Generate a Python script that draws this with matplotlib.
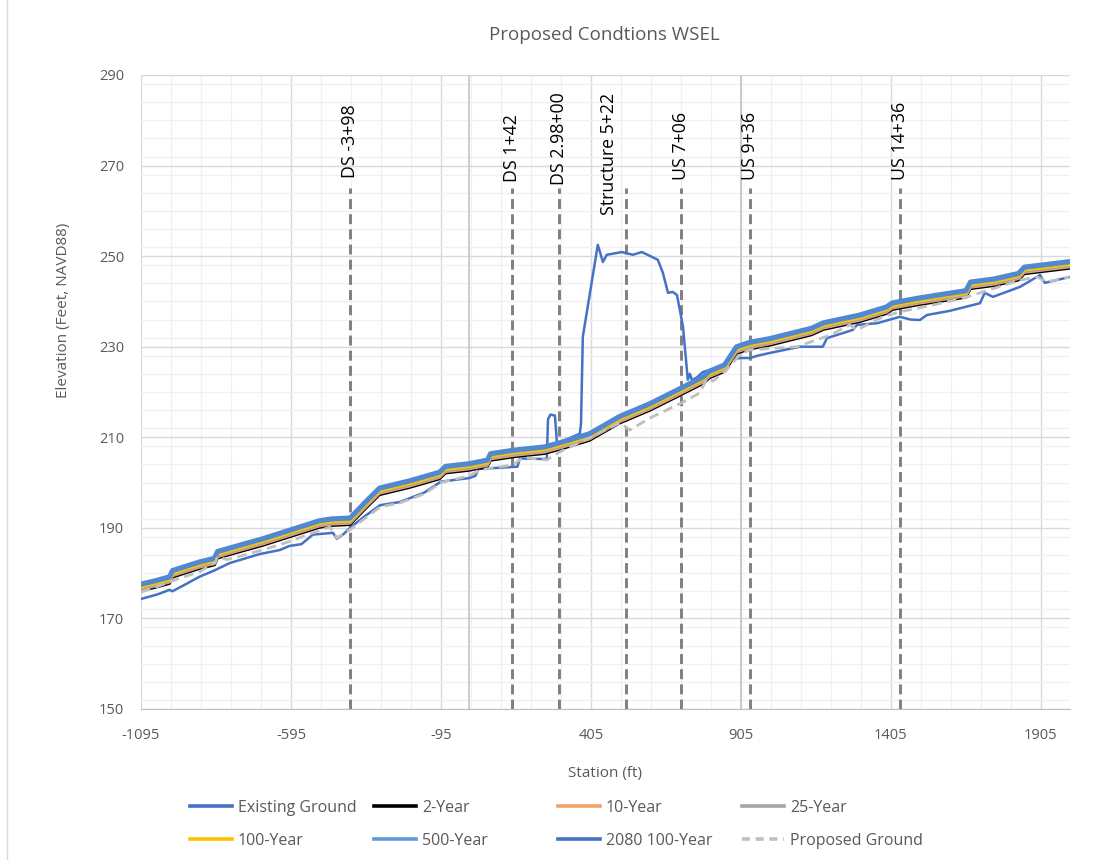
import numpy as np
import matplotlib.pyplot as plt
from matplotlib.ticker import MultipleLocator
from matplotlib.lines import Line2D

plt.rcParams['font.family'] = ['Open Sans', 'DejaVu Sans']
plt.rcParams['axes.unicode_minus'] = False

# --- data ---
wsel_sta = [-1095, -1050, -1000, -990, -900, -850, -840, -750, -690, -600, -500, -460, -398,
            -350, -300, -250, -200, -100, -80, 0, 60, 70, 150, 250, 300, 400, 500, 600, 700,
            780, 800, 850, 890, 935, 1000, 1140, 1180, 1300, 1390, 1410, 1500, 1655, 1670,
            1750, 1830, 1850, 1900, 2000]

ws_2080 = [177.6, 178.3, 179.2, 180.6, 182.5, 183.3, 184.8, 186.5, 187.6, 189.5, 191.6, 192.0, 192.2,
           195.5, 198.8, 199.6, 200.4, 202.3, 203.6, 204.2, 205.0, 206.4, 207.2, 207.9, 208.8, 210.8,
           214.6, 217.4, 220.7, 223.4, 224.6, 226.0, 230.0, 231.0, 231.8, 234.1, 235.3, 237.0, 238.8,
           239.7, 240.8, 242.4, 244.3, 245.0, 246.2, 247.6, 248.0, 248.8]
ws_500 = [177.3, 178.0, 178.9, 180.3, 182.2, 183.0, 184.5, 186.2, 187.3, 189.2, 191.3, 191.7, 191.9,
          195.2, 198.5, 199.3, 200.1, 202.0, 203.3, 203.9, 204.7, 206.1, 206.9, 207.6, 208.5, 210.5,
          214.3, 217.1, 220.4, 223.1, 224.3, 225.7, 229.7, 230.7, 231.5, 233.8, 235.0, 236.7, 238.5,
          239.4, 240.5, 242.1, 244.0, 244.7, 245.9, 247.3, 247.7, 248.5]
ws_100 = [176.9, 177.6, 178.5, 179.9, 181.8, 182.6, 184.1, 185.8, 186.9, 188.8, 190.9, 191.3, 191.5,
          194.8, 198.1, 198.9, 199.7, 201.6, 202.9, 203.5, 204.3, 205.7, 206.5, 207.2, 208.1, 210.1,
          213.9, 216.7, 220.0, 222.7, 223.9, 225.3, 229.3, 230.3, 231.1, 233.4, 234.6, 236.3, 238.1,
          239.0, 240.1, 241.7, 243.6, 244.3, 245.5, 246.9, 247.3, 248.1]
ws_25 = [176.6, 177.3, 178.2, 179.6, 181.5, 182.3, 183.8, 185.5, 186.6, 188.5, 190.6, 191.0, 191.2,
         194.5, 197.8, 198.6, 199.4, 201.3, 202.6, 203.2, 204.0, 205.4, 206.2, 206.9, 207.8, 209.8,
         213.6, 216.4, 219.7, 222.4, 223.6, 225.0, 229.0, 230.0, 230.8, 233.1, 234.3, 236.0, 237.8,
         238.7, 239.8, 241.4, 243.3, 244.0, 245.2, 246.6, 247.0, 247.8]
ws_10 = [176.4, 177.1, 178.0, 179.4, 181.3, 182.1, 183.6, 185.3, 186.4, 188.3, 190.4, 190.8, 191.0,
         194.3, 197.6, 198.4, 199.2, 201.1, 202.4, 203.0, 203.8, 205.2, 206.0, 206.7, 207.6, 209.6,
         213.4, 216.2, 219.5, 222.2, 223.4, 224.8, 228.8, 229.8, 230.6, 232.9, 234.1, 235.8, 237.6,
         238.5, 239.6, 241.2, 243.1, 243.8, 245.0, 246.4, 246.8, 247.6]
ws_2 = [176.1, 176.8, 177.7, 179.1, 181.0, 181.8, 183.3, 185.0, 186.1, 188.0, 190.1, 190.5, 190.7,
        194.0, 197.3, 198.1, 198.9, 200.8, 202.1, 202.7, 203.5, 204.9, 205.7, 206.4, 207.3, 209.3,
        213.1, 215.9, 219.2, 221.9, 223.1, 224.5, 228.5, 229.5, 230.3, 232.6, 233.8, 235.5, 237.3,
        238.2, 239.3, 240.9, 242.8, 243.5, 244.7, 246.1, 246.5, 247.3]

exist_sta = [-1095, -1040, -1000, -990, -950, -900, -850, -800, -760, -700, -632, -600, -560, -522,
             -455, -442, -420, -398, -350, -298, -232, -150, -95, 0, 20, 30, 160, 168, 258, 262,
             270, 285, 292, 300, 368, 372, 378, 428, 445, 458, 508, 545, 575, 628, 645, 662, 678,
             692, 712, 728, 735, 742, 760, 778, 802, 845, 868, 902, 935, 960, 1000, 1102, 1178,
             1192, 1278, 1292, 1360, 1435, 1470, 1502, 1525, 1600, 1702, 1718, 1745, 1835, 1902,
             1918, 2002]
exist_elev = [174.3, 175.3, 176.3, 176.0, 177.4, 179.2, 180.6, 182.2, 183.0, 184.2, 185.1, 186.0,
              186.4, 188.5, 188.9, 187.6, 188.6, 190.0, 192.5, 195.0, 195.7, 197.8, 200.2, 201.0,
              201.5, 203.0, 203.5, 205.3, 205.2, 214.0, 215.0, 214.8, 208.6, 208.8, 210.8, 213.0,
              232.2, 252.5, 248.7, 250.3, 250.9, 250.3, 250.9, 249.2, 246.3, 241.9, 242.1, 241.4,
              234.4, 222.7, 224.0, 222.6, 223.3, 224.4, 224.9, 225.5, 227.1, 227.5, 227.5, 228.0,
              228.6, 230.0, 230.0, 231.9, 233.7, 234.8, 235.2, 236.6, 236.0, 235.9, 237.0, 237.9,
              239.6, 241.9, 241.0, 243.2, 245.8, 244.1, 245.4]

prop_sta = [-1095, -1050, -990, -900, -848, -840, -808, -750, -655, -600, -522, -465, -442, -398,
            -350, -298, -232, -150, -95, 0, 35, 145, 178, 258, 302, 402, 502, 535, 600, 702, 768,
            792, 812, 858, 902, 935, 1092, 1200, 1268, 1292, 1378, 1435, 1545, 1650, 1712, 1835,
            1892, 1925, 2000]
prop_elev = [175.8, 176.8, 178.3, 180.3, 182.3, 183.6, 183.0, 184.0, 185.8, 187.0, 188.9, 190.2,
             187.8, 189.6, 192.0, 194.6, 195.5, 197.5, 200.0, 201.5, 202.8, 203.9, 205.5, 205.0,
             206.8, 209.9, 213.2, 211.6, 214.2, 217.4, 219.8, 223.0, 222.4, 224.9, 228.3, 229.3,
             230.0, 232.5, 234.8, 233.7, 236.6, 237.7, 239.2, 240.8, 242.1, 244.7, 245.4, 244.3,
             245.4]

marker_sta = [-398, 142, 298, 522, 706, 936, 1436]
marker_top = 265
lbl_text = ["DS -3+98", "DS 1+42", "DS 2.98+00", "Structure 5+22", "US 7+06", "US 9+36", "US 14+36"]
lbl_sta = [-398, 142, 298, 464, 706, 936, 1436]
lbl_elev = [267.3, 266.4, 265.7, 259.1, 266.8, 266.8, 266.8]
ref_sta = [0, 905]

x_ticks = [-1095, -595, -95, 405, 905, 1405, 1905]
y_ticks = [150, 170, 190, 210, 230, 250, 270, 290]

# --- figure ---
fig = plt.figure(figsize=(11.09, 8.6), dpi=100)
ax = fig.add_axes([0.1271, 0.1756, 0.8377, 0.7372])

txt = '#595959'
ax.set_xlim(-1095, 2002)
ax.set_ylim(150, 290)
ax.set_xticks(x_ticks)
ax.set_yticks(y_ticks)
ax.xaxis.set_minor_locator(MultipleLocator(100, offset=5))
ax.yaxis.set_minor_locator(MultipleLocator(4))
ax.grid(which='major', color='#d9d9d9', lw=1.0, zorder=0)
ax.grid(which='minor', color='#f0f0f0', lw=1.0, zorder=0)
ax.set_axisbelow(True)
ax.tick_params(which='both', length=0, labelsize=10.5, labelcolor=txt)
ax.tick_params(axis='x', pad=14)
ax.tick_params(axis='y', pad=12)
for s in ['top', 'right', 'left']:
    ax.spines[s].set_visible(False)
ax.spines['bottom'].set_color('#bfbfbf')

for r in ref_sta:
    ax.axvline(r, color='#c8c8c8', lw=1.3, zorder=1)

# station marker lines
for s in marker_sta:
    ax.plot([s, s], [150, marker_top], color='#7f7f7f', lw=2.1, ls=(0, (3.4, 1.8)), zorder=2)
for s, e, lbl in zip(lbl_sta, lbl_elev, lbl_text):
    ax.text(s, e, lbl, rotation=90, ha='center', va='bottom', fontsize=12.8, color='black')

ax.plot(exist_sta, exist_elev, color='#4472c4', lw=1.8, zorder=3)
ax.plot(wsel_sta, ws_2, color='black', lw=2.0, zorder=4)
ax.plot(wsel_sta, ws_10, color='#f3a26b', lw=2.0, zorder=4)
ax.plot(wsel_sta, ws_25, color='#a5a5a5', lw=2.0, zorder=4)
ax.plot(wsel_sta, ws_100, color='#ffc000', lw=2.0, zorder=4)
ax.plot(wsel_sta, ws_500, color='#5b9bd5', lw=2.0, zorder=4)
ax.plot(wsel_sta, ws_2080, color='#5089d2', lw=3.5, zorder=4)
ax.plot(prop_sta, prop_elev, color='#bfbfbf', lw=2.0, ls=(0, (3.5, 2)), zorder=5)

# --- text ---
fig.text(604 / 1109, 1 - 35 / 860, 'Proposed Condtions WSEL', ha='center', va='center',
         fontsize=13.5, color=txt)
fig.text(605 / 1109, 1 - 773 / 860, 'Station (ft)', ha='center', va='center',
         fontsize=11, color=txt)
fig.text(63 / 1109, 1 - 310 / 860, 'Elevation (Feet, NAVD88)', ha='center', va='center',
         rotation=90, fontsize=11, color=txt)

# legend: four columns placed like the original
def h(c, ls='-'):
    return Line2D([], [], color=c, lw=2.6, ls=ls)

cols = [[h('#4472c4'), h('#ffc000')], [h('black'), h('#5b9bd5')],
        [h('#f3a26b'), h('#4472c4')], [h('#a5a5a5'), h('#bfbfbf', (0, (2.2, 1.6)))]]
names = [["Existing Ground", "100-Year"], ["2-Year", "500-Year"],
         ["10-Year", "2080 100-Year"], ["25-Year", "Proposed Ground"]]
col_x = [190, 374, 558, 742]
for hs, ns, cx in zip(cols, names, col_x):
    fig.legend(hs, ns, loc='upper left', bbox_to_anchor=(cx / 1109, 1 - 800 / 860),
               frameon=False, fontsize=11.5, labelcolor=txt, handlelength=2.6,
               handletextpad=0.4, labelspacing=1.05, borderpad=0, borderaxespad=0)

fig.add_artist(Line2D([7 / 1109, 7 / 1109], [0, 1], color='#d9d9d9', lw=1))

fig.savefig('out.png', dpi=100)
